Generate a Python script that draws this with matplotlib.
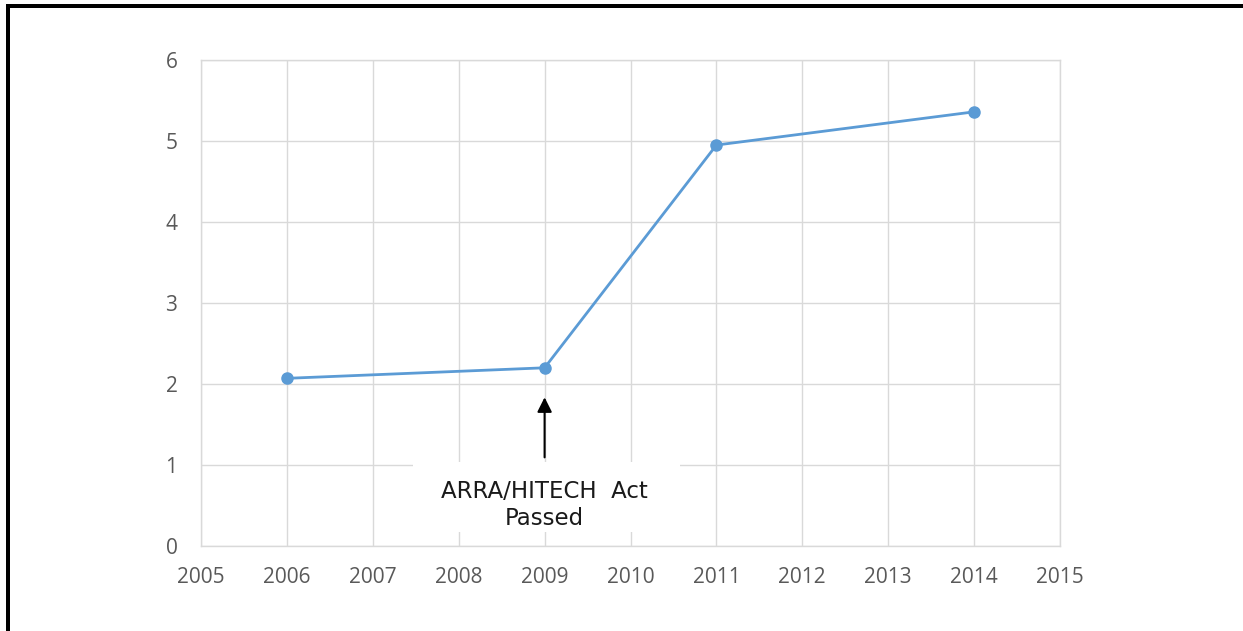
import matplotlib.pyplot as plt
from matplotlib.patches import Rectangle

years = [2006, 2009, 2011, 2014]
values = [2.07, 2.20, 4.95, 5.36]
x_ticks = list(range(2005, 2016))
y_ticks = list(range(0, 7))
note = "ARRA/HITECH  Act\nPassed"

plt.rcParams['font.family'] = ['Open Sans', 'DejaVu Sans']

W, H = 1243, 631
fig = plt.figure(figsize=(W / 100, H / 100), dpi=100)
ax = fig.add_axes([201 / W, 1 - 546 / H, (1060 - 201) / W, (546 - 60) / H])

grid_c = '#d9d9d9'
ax.plot(years, values, color='#5b9bd5', lw=2, marker='o', markersize=8, zorder=3)

ax.set_xlim(2005, 2015)
ax.set_ylim(0, 6)
ax.set_xticks(x_ticks)
ax.set_yticks(y_ticks)
ax.grid(True, color=grid_c, lw=1, zorder=0)
ax.set_axisbelow(True)
for s in ax.spines.values():
    s.set_color(grid_c)
    s.set_linewidth(1)
ax.tick_params(axis='both', length=0, labelsize=15, labelcolor='#595959')
ax.tick_params(axis='x', pad=15)
ax.tick_params(axis='y', pad=17)

# white box behind the note hides the gridlines
ax.add_patch(Rectangle((2007.47, 0.17), 3.11, 0.87, facecolor='white',
                       edgecolor='none', zorder=2))
ax.text(2009, 0.26, note, ha='center', va='baseline', fontsize=16.5,
        family='DejaVu Sans', color='#1a1a1a', multialignment='center', zorder=4)
ax.annotate('', xy=(2009, 1.87), xytext=(2009, 1.06),
            arrowprops=dict(arrowstyle='-|>', color='black', lw=1.5,
                            mutation_scale=22), zorder=4)

# black frame, left and top only
fig.add_artist(Rectangle((6 / W, 0), 4 / W, 1 - 4 / H, transform=fig.transFigure,
                         facecolor='black', edgecolor='none'))
fig.add_artist(Rectangle((6 / W, 1 - 8 / H), 1 - 6 / W, 4 / H, transform=fig.transFigure,
                         facecolor='black', edgecolor='none'))

fig.savefig('out.png', dpi=100)
